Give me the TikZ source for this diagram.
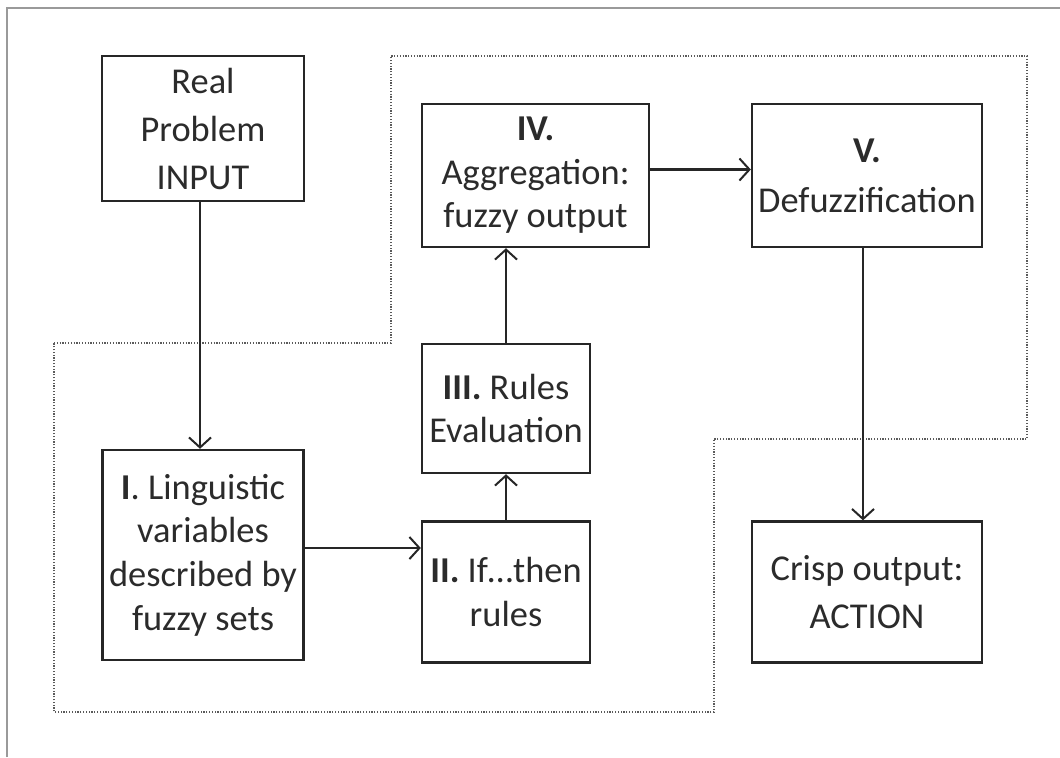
\documentclass[tikz,border=0pt]{standalone}
\usepackage{fontspec}
\setmainfont{Carlito}
\usetikzlibrary{arrows.meta}
\definecolor{txt}{HTML}{2B2B2B}
\definecolor{frame}{HTML}{9A9A9A}
\definecolor{dotc}{HTML}{5A5A5A}
\tikzset{
  box/.style={draw=black!85, line width=1.2pt, inner sep=0pt, align=center, text=txt,
    font=\fontsize{18.2}{21.8}\selectfont},
  conn/.style={line width=1.1pt, draw=black!85, -{Straight Barb[length=5pt,width=11pt,line width=1pt]}},
  dotline/.style={draw=dotc, line width=1pt, dash pattern=on 0.6pt off 0.8pt},
  framel/.style={draw=frame, line width=1pt}
}
\begin{document}
\begin{tikzpicture}[x=0.5pt,y=-0.5pt]
\useasboundingbox (0,0) rectangle (1060,757);
% partial outer frame
\draw[framel] (7,757) -- (7,8) -- (1060,8);
% dotted region
\draw[dotline] (54,343) -- (391,343) -- (391,56) -- (1027,56) -- (1027,439) -- (714,439) -- (714,712) -- (54,712) -- cycle;
% boxes
\node[box, minimum width=101pt, minimum height=72.5pt, font=\fontsize{18.2}{24}\selectfont] (real) at (203,128.5) {Real\\Problem\\INPUT};
\node[box, minimum width=100.5pt, minimum height=105pt] (lin) at (203,555) {\textbf{I}. Linguistic\\variables\\described by\\fuzzy sets};
\node[box, minimum width=84pt, minimum height=70.5pt] (rules) at (506,592) {\textbf{II.} If…then\\rules};
\node[box, minimum width=84pt, minimum height=64.5pt] (eval) at (506,408.5) {\textbf{III.} Rules\\Evaluation};
\node[box, minimum width=113.5pt, minimum height=71.5pt] (agg) at (535.5,175.5) {\textbf{IV.}\\Aggregation:\\fuzzy output};
\node[box, minimum width=115pt, minimum height=71.5pt, font=\fontsize{18.2}{25}\selectfont] (defuz) at (867,175.5) {\textbf{V.}\\Defuzzification};
\node[box, minimum width=115pt, minimum height=70.5pt, font=\fontsize{18.2}{24}\selectfont] (crisp) at (867,592) {Crisp output:\\ACTION};
% connectors
\draw[conn] (real.south) ++(-3,0) coordinate (rs) -- (rs |- lin.north);
\draw[conn] (lin.east |- rules.west) ++(0,-44) coordinate (ls) -- (ls -| rules.west);
\draw[conn] (rules.north) -- (eval.south);
\draw[conn] (eval.north) -- (agg.south -| eval.north);
\draw[conn] (agg.east) ++(0,-6) coordinate (as) -- (as -| defuz.west);
\draw[conn] (defuz.south) ++(-4,0) coordinate (ds) -- (ds |- crisp.north);
\end{tikzpicture}
\end{document}
